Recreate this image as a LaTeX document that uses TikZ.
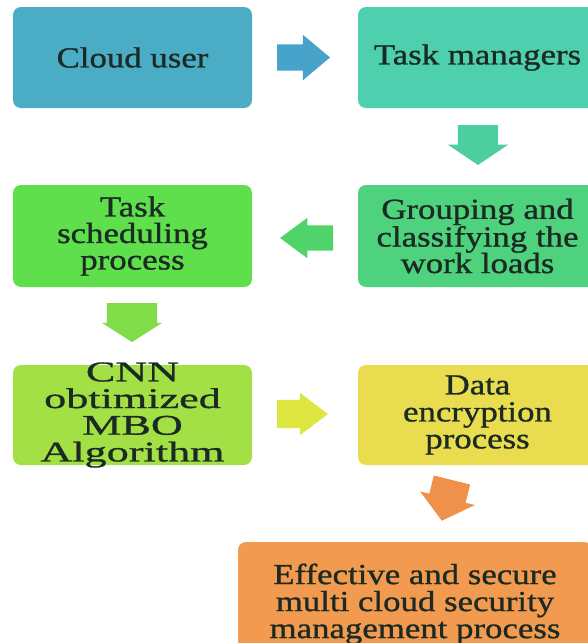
\documentclass[tikz,border=0pt]{standalone}
\usepackage{fontspec}
\setmainfont{Liberation Serif}[FakeStretch=1.2,FakeBold=1]
\newfontfamily\widefont{Liberation Serif}[FakeStretch=1.55,FakeBold=1]
\usetikzlibrary{shapes.arrows}

\definecolor{txt}{HTML}{1B2A22}
\definecolor{userblue}{HTML}{4BACC6}
\definecolor{arrowblue}{HTML}{48A3CB}
\definecolor{managerteal}{HTML}{4ECFAD}
\definecolor{arrowteal}{HTML}{4DCE9E}
\definecolor{groupgreen}{HTML}{4FD27E}
\definecolor{arrowgreen}{HTML}{50D46A}
\definecolor{schedgreen}{HTML}{5FDF4C}
\definecolor{arrowlime}{HTML}{80DD48}
\definecolor{cnnlime}{HTML}{A3E046}
\definecolor{arrowyellow}{HTML}{DCE63F}
\definecolor{encyellow}{HTML}{E9DD4F}
\definecolor{arroworange}{HTML}{EF914B}
\definecolor{effectorange}{HTML}{F29A50}

\begin{document}
\begin{tikzpicture}[x=1pt,y=-1pt,
  box/.style={rectangle,rounded corners=8pt,minimum width=239pt,minimum height=101pt,
    align=center,text=txt,font=\fontsize{29}{26.5}\selectfont},
  blockarrow/.style={single arrow,draw=none,outer sep=0pt,anchor=tail,
    single arrow head indent=0pt},
  across/.style={inner xsep=0pt,inner ysep=#1},
  down/.style={inner ysep=0pt,inner xsep=#1,shape border rotate=270}]
\useasboundingbox (0,0) rectangle (588,643);
\clip (0,0) rectangle (588,643);

%prva vrsta
\node[box,fill=userblue] (user) at (132.5,57.5) {Cloud user};
\node[box,fill=managerteal] (managers) at (477.5,57.5) {Task managers};
\node[blockarrow,fill=arrowblue,minimum height=53pt,minimum width=45pt,across=13pt,
  single arrow head extend=9.5pt,single arrow tip angle=80] (a1) at (277,57.5) {};
\node[blockarrow,fill=arrowteal,minimum height=40pt,minimum width=60pt,down=20pt,
  single arrow head extend=10pt,single arrow tip angle=112] (a2) at (478,125) {};

%druga vrsta
\node[box,fill=groupgreen,minimum height=102pt] (grouping) at (477.5,236) {Grouping and\\classifying the\\work loads};
\node[box,fill=schedgreen,minimum height=102pt] (scheduling) at (132.5,236) {Task\\scheduling\\process};
\node[blockarrow,fill=arrowgreen,minimum height=53pt,minimum width=40pt,across=12.5pt,
  single arrow head extend=7.5pt,single arrow tip angle=73,shape border rotate=180] (a3) at (333,238) {};
\node[blockarrow,fill=arrowlime,minimum height=39pt,minimum width=60pt,down=25pt,
  single arrow head extend=5pt,single arrow tip angle=115] (a4) at (132,303) {};

%tretja vrsta
\node[box,fill=cnnlime,minimum height=100pt,inner ysep=-3.5pt,
  font=\widefont\fontsize{28.5}{26.7}\selectfont] (cnn) at (132.5,415) {CNN\\obtimized\\MBO\\Algorithm};
\node[box,fill=encyellow,minimum height=100pt,font=\fontsize{29}{27}\selectfont] (encryption) at (477.5,415) {Data\\encryption\\process};
\node[blockarrow,fill=arrowyellow,minimum height=51pt,minimum width=42pt,across=14pt,
  single arrow head extend=7pt,single arrow tip angle=74] (a5) at (277,414) {};
\node[blockarrow,fill=arroworange,minimum height=42pt,minimum width=56pt,down=18.5pt,
  single arrow head extend=9.5pt,single arrow tip angle=101,rotate=-14] (a6) at (452,480) {};

%zadnji korak
\node[box,fill=effectorange,minimum width=354pt,minimum height=124pt,font=\fontsize{29}{27}\selectfont] (effective) at (415,604)
  {Effective and secure\\multi cloud security\\management process};

\end{tikzpicture}
\end{document}
